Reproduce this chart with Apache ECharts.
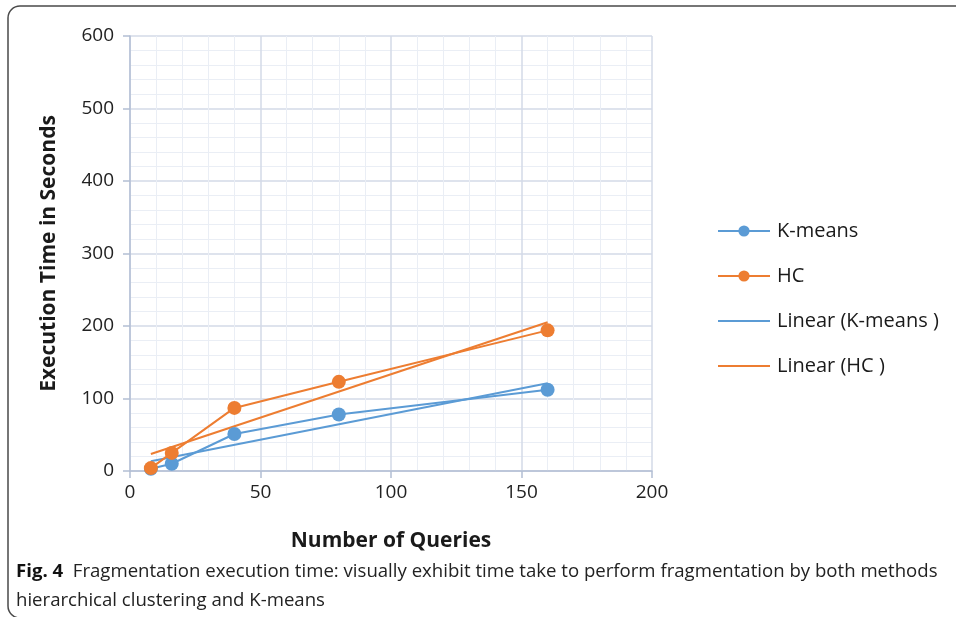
<!DOCTYPE html>
<html><head><meta charset="utf-8">
<script src="https://cdn.jsdelivr.net/npm/echarts@6/dist/echarts.min.js"></script>
<style>html,body{margin:0;padding:0;background:#fff}#c{width:956px;height:617px}</style>
</head><body><div id="c"></div>
<script>
const queries = [8, 16, 40, 80, 160];
const kmeansTime = [3, 10, 51, 78, 112];
const hcTime = [4, 25, 87, 123, 194];
const seriesNames = ['K-means', 'HC', 'Linear (K-means )', 'Linear (HC )'];
const xTitle = 'Number of Queries';
const yTitle = 'Execution Time in Seconds';
const captionBold = 'Fig. 4';
const captionLine1 = 'Fragmentation execution time: visually exhibit time take to perform fragmentation by both methods';
const captionLine2 = 'hierarchical clustering and K-means';

function pairs(xs, ys) { return xs.map((x, i) => [x, ys[i]]); }
function linearFit(xs, ys) {
  const n = xs.length;
  const mx = xs.reduce((a, b) => a + b, 0) / n;
  const my = ys.reduce((a, b) => a + b, 0) / n;
  let sxy = 0, sxx = 0;
  for (let i = 0; i < n; i++) { sxy += (xs[i] - mx) * (ys[i] - my); sxx += (xs[i] - mx) ** 2; }
  const b = sxy / sxx, a = my - b * mx;
  const x0 = xs[0], x1 = xs[n - 1];
  return [[x0, a + b * x0], [x1, a + b * x1]];
}

const BLUE = '#5b9bd5', ORANGE = '#ed7d31';
const AXIS = '#b3bfd4', MAJOR = '#d3dae7', MINOR = '#eaeef5';
const FONT = '"Open Sans", sans-serif';
const LINE_ICON = 'path://M0,0H52V2H0Z';

const chart = echarts.init(document.getElementById('c'), null, {renderer: 'canvas'});
chart.setOption({
  animation: false,
  backgroundColor: '#fff',
  grid: {left: 130, top: 36, width: 522, height: 435, containLabel: false},
  xAxis: {
    type: 'value', min: 0, max: 200, interval: 50,
    axisLine: {show: true, lineStyle: {color: AXIS, width: 1.5}},
    axisTick: {show: true, length: 7, lineStyle: {color: AXIS, width: 1.5}},
    axisLabel: {color: '#222', fontSize: 19, fontFamily: FONT, margin: 12},
    splitLine: {show: true, lineStyle: {color: MAJOR, width: 1.5}},
    minorTick: {show: false, splitNumber: 5},
    minorSplitLine: {show: true, lineStyle: {color: MINOR, width: 1}},
    name: xTitle, nameLocation: 'middle', nameGap: 60,
    nameTextStyle: {color: '#1a1a1a', fontSize: 21, fontWeight: 'bold', fontFamily: FONT}
  },
  yAxis: {
    type: 'value', min: 0, max: 600, interval: 100,
    axisLine: {show: true, lineStyle: {color: AXIS, width: 1.5}},
    axisTick: {show: true, length: 7, lineStyle: {color: AXIS, width: 1.5}},
    axisLabel: {color: '#222', fontSize: 19, fontFamily: FONT, margin: 16},
    splitLine: {show: true, lineStyle: {color: MAJOR, width: 1.5}},
    minorTick: {show: false, splitNumber: 5},
    minorSplitLine: {show: true, lineStyle: {color: MINOR, width: 1}},
    name: yTitle, nameLocation: 'middle', nameGap: 70,
    nameTextStyle: {color: '#1a1a1a', fontSize: 21, fontWeight: 'bold', fontFamily: FONT}
  },
  legend: {
    orient: 'vertical', left: 712, top: 216,
    itemWidth: 52, itemHeight: 14, itemGap: 25,
    symbolKeepAspect: true,
    textStyle: {color: '#1a1a1a', fontSize: 20, fontFamily: FONT, padding: [0, 0, 0, 2]},
    data: [
      {name: seriesNames[0]},
      {name: seriesNames[1]},
      {name: seriesNames[2], icon: LINE_ICON},
      {name: seriesNames[3], icon: LINE_ICON}
    ]
  },
  series: [
    {name: seriesNames[2], type: 'line', data: linearFit(queries, kmeansTime), symbol: 'none', z: 1,
     lineStyle: {color: BLUE, width: 2}, itemStyle: {color: BLUE}},
    {name: seriesNames[3], type: 'line', data: linearFit(queries, hcTime), symbol: 'none', z: 1,
     lineStyle: {color: ORANGE, width: 2}, itemStyle: {color: ORANGE}},
    {name: seriesNames[0], type: 'line', data: pairs(queries, kmeansTime), symbol: 'circle', symbolSize: 14, z: 3,
     lineStyle: {color: BLUE, width: 2}, itemStyle: {color: BLUE}},
    {name: seriesNames[1], type: 'line', data: pairs(queries, hcTime), symbol: 'circle', symbolSize: 14, z: 4,
     lineStyle: {color: ORANGE, width: 2}, itemStyle: {color: ORANGE}}
  ],
  graphic: [
    {type: 'rect', shape: {x: 8, y: 6, width: 1000, height: 612, r: 12},
     style: {fill: 'none', stroke: '#4a4a4a', lineWidth: 1.5}, silent: true},
    {type: 'text', left: 16, top: 562,
     style: {text: '{b|' + captionBold + '}  ' + captionLine1, fill: '#222', font: '18.6px "Open Sans", sans-serif',
             rich: {b: {fontWeight: 'bold', fontSize: 18.6, fontFamily: '"Open Sans", sans-serif', fill: '#111'}}}},
    {type: 'text', left: 16, top: 591,
     style: {text: captionLine2, fill: '#222', font: '18.6px "Open Sans", sans-serif'}}
  ]
});
</script></body></html>
